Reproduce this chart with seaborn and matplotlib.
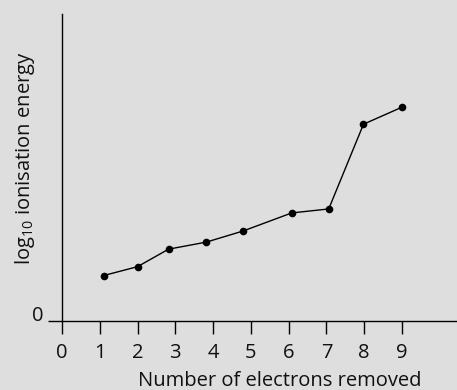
import matplotlib
matplotlib.use("Agg")
import matplotlib.pyplot as plt
import seaborn as sns
import pandas as pd

# Successive ionisation energies (schematic log scale, arbitrary units)
electrons_removed = [1.1, 2.0, 2.82, 3.82, 4.79, 6.08, 7.06, 7.98, 8.99]
log_ie = [1.48, 1.77, 2.34, 2.57, 2.93, 3.52, 3.65, 6.41, 6.96]
x_ticks = [0, 1, 2, 3, 4, 5, 6, 7, 8, 9]
y_ticks = [0]

sns.set_theme(style="white")
plt.rcParams["font.family"] = ["Open Sans", "DejaVu Sans"]
plt.rcParams["text.color"] = "#111111"
plt.rcParams["axes.labelcolor"] = "#111111"
plt.rcParams["xtick.labelcolor"] = "#111111"
plt.rcParams["ytick.labelcolor"] = "#111111"

bg = "#dedede"
fig = plt.figure(figsize=(4.57, 3.90), dpi=100, facecolor=bg)
ax = fig.add_axes([62 / 457, 69 / 390, (457 - 62) / 457, (321 - 14) / 390])
ax.set_facecolor(bg)

df = pd.DataFrame({"n": electrons_removed, "ie": log_ie})
sns.lineplot(data=df, x="n", y="ie", ax=ax, color="black", linewidth=1.0,
             marker="o", markersize=5.5, markeredgewidth=0, sort=False)

ax.set_xlim(0, (457 - 62) / 37.78)
ax.set_ylim(0, 10)
ax.set_xticks(x_ticks)
ax.set_yticks(y_ticks)
ax.tick_params(axis="x", direction="out", length=9, width=1.0, color="black",
               labelsize=14.5, pad=7, bottom=True)
ax.tick_params(axis="y", direction="out", length=10, width=1.0, color="black",
               labelsize=14.5, pad=3.5, left=True)
for lbl in ax.get_yticklabels():
    lbl.set_verticalalignment("baseline")

for side in ("top", "right"):
    ax.spines[side].set_visible(False)
for side in ("left", "bottom"):
    ax.spines[side].set_color("black")
    ax.spines[side].set_linewidth(1.0)

ax.set_xlabel("Number of electrons removed", fontsize=14.5)
ax.xaxis.set_label_coords((280 - 62) / (457 - 62), -(371 - 321) / 307)
ax.set_ylabel(r"log$_{\mathregular{10}}$ ionisation energy", fontsize=14.5)
ax.yaxis.set_label_coords(-(62 - 37) / 395, (321 - 158) / 307)

fig.savefig("out.png", dpi=100, facecolor=bg)
